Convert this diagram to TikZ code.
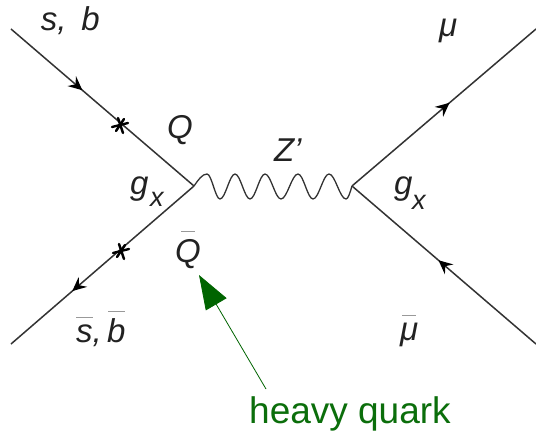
\documentclass[tikz,border=0pt]{standalone}
\usepackage{fontspec}
\setmainfont{Liberation Sans}
\usetikzlibrary{arrows.meta,decorations.markings}
\newcommand{\barred}[3]{\setbox0\hbox{#3}\rlap{\kern#1pt\raisebox{#2pt}{\color{barcol}\rule{\dimexpr\wd0-#1pt-#1pt\relax}{1.4pt}}}\box0}
\definecolor{barcol}{HTML}{999999}
\definecolor{linecol}{HTML}{333333}
\definecolor{lab}{HTML}{222222}
\definecolor{dkgreen}{HTML}{006400}
\definecolor{txtgreen}{HTML}{0B6E0B}
\tikzset{
  fermion/.style={draw=linecol,line width=1.5pt,postaction={decorate},decoration={markings,mark=at position #1 with {\arrow[black]{Stealth[length=14pt,width=13pt,inset=5pt]}}}},
  boson/.style={draw=linecol,line width=1.3pt},
  lbl/.style={anchor=base west,inner sep=0pt,outer sep=0pt,text=lab,font=\fontsize{33}{36}\selectfont\itshape},
  sublbl/.style={lbl,font=\fontsize{27}{30}\selectfont\itshape},
  starstroke/.style={draw=black,line width=2.4pt,line cap=round},
  pics/xstar/.style={code={
    \path[starstroke] (-8,2)--(8,-2);
    \path[starstroke] (-2,-7)--(3,8);
    \path[starstroke] (-4,6)--(4,-6);
  }}
}
\begin{document}
\begin{tikzpicture}[x=1pt,y=-1pt]
\path[use as bounding box,fill=white] (0,0) rectangle (536,433);
\coordinate (vl) at (194,186);
\coordinate (vr) at (352,186);
\coordinate (a) at (11,29);
\coordinate (b) at (11,344);
\coordinate (c) at (536,29);
\coordinate (d) at (536,344);
\path[fermion=0.39] (a) -- (vl);
\path[fermion=0.665] (vl) -- (b);
\path[fermion=0.53] (vr) -- (c);
\path[fermion=0.53] (d) -- (vr);
\path[boson] (vl) sin ++(13,-12)
  cos ++(6.5,12.5) sin ++(6.5,12.5)
  cos ++(7.5,-12.5) sin ++(7.5,-12.5)
  cos ++(7.5,12.5) sin ++(7.5,12.5)
  cos ++(7.5,-12.5) sin ++(7.5,-12.5)
  cos ++(8,12.5) sin ++(8,12.5)
  cos ++(8.5,-12.5) sin ++(8.5,-12.5)
  cos ++(7.5,12.5) sin ++(7.5,12.5)
  cos ++(8,-12.5) sin ++(8,-12.5)
  cos ++(8.5,12.5) sin ++(8.5,12.5)
  cos (vr);
\pic at (120,125) {xstar};
\pic at (121,251) {xstar};
\node[lbl] (sb) at (41,31) {s, \,b};
\node[lbl] (Q) at (167,139) {Q};
\node[lbl] (g1) at (130,195) {g};
\node[sublbl] (x1) at (150,207) {x};
\node[lbl] (Zp) at (274,162) {Z’};
\node[lbl] (mu) at (439,37) {μ};
\node[lbl] (g2) at (394,195) {g};
\node[sublbl] (x2) at (412,210) {x};
\node[lbl] (Qb) at (175,262) {\barred{6}{30}{Q}};
\node[lbl] (sbb) at (76,342) {\barred{0}{24}{s},\,\barred{1}{30}{b}};
\node[lbl] (mub) at (400,340) {\barred{2}{24}{μ}};
\node[anchor=base west,inner sep=0pt,text=txtgreen,font=\fontsize{37}{40}\selectfont] (hq) at (249,423) {heavy quark};
\coordinate (tail) at (266,389);
\coordinate (tip) at (199,275);
\draw[dkgreen,line width=0.8pt,-{Triangle[length=34pt,width=24pt]}] (tail) -- (tip);
\end{tikzpicture}
\end{document}
